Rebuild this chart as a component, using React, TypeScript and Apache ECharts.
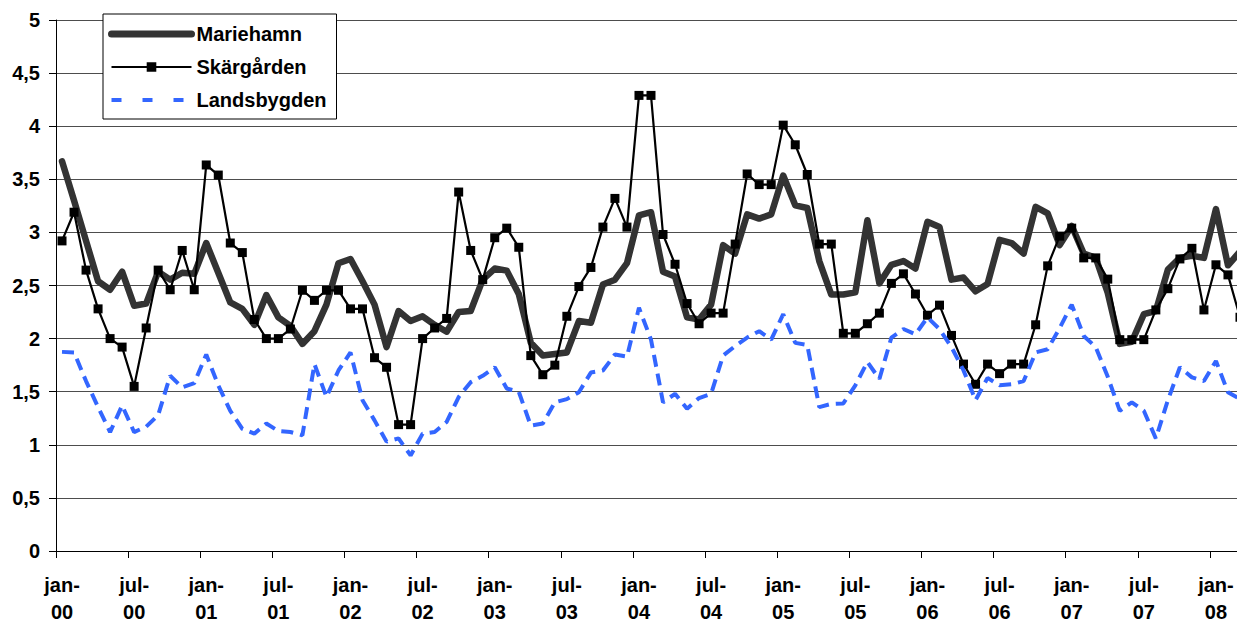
import React, { useEffect, useRef } from "react";
import * as echarts from "echarts";

const monthNames = ["jan", "feb", "mar", "apr", "maj", "jun", "jul", "aug", "sep", "okt", "nov", "dec"];
const years = ["00", "01", "02", "03", "04", "05", "06", "07", "08"];
const categories: string[] = [];
years.forEach((y) => monthNames.forEach((m) => categories.push(`${m}-${y}`)));
const months = categories.slice(0, 99); // jan-00 .. mar-08

const mariehamn = [
  3.67, 3.3, 2.92, 2.54, 2.46, 2.63, 2.31, 2.33, 2.63, 2.555, 2.62, 2.61,
  2.9, 2.62, 2.34, 2.28, 2.13, 2.41, 2.2, 2.12, 1.95, 2.07, 2.32, 2.71,
  2.75, 2.54, 2.32, 1.92, 2.26, 2.165, 2.21, 2.13, 2.065, 2.25, 2.26, 2.555,
  2.66, 2.64, 2.42, 1.96, 1.84, 1.855, 1.87, 2.165, 2.15, 2.51, 2.555, 2.71,
  3.16, 3.19, 2.63, 2.585, 2.2, 2.18, 2.32, 2.88, 2.8, 3.17, 3.13, 3.17,
  3.535, 3.255, 3.23, 2.73, 2.415, 2.415, 2.435, 3.115, 2.52, 2.695, 2.73, 2.66,
  3.1, 3.05, 2.555, 2.575, 2.445, 2.515, 2.93, 2.9, 2.8, 3.24, 3.18, 2.88,
  3.06, 2.8, 2.76, 2.43, 1.95, 1.97, 2.23, 2.26, 2.65, 2.76, 2.78, 2.76,
  3.22, 2.69, 2.82,
];

const skargarden = [
  2.92, 3.19, 2.645, 2.28, 2.0, 1.92, 1.55, 2.1, 2.645, 2.46, 2.83, 2.46,
  3.635, 3.54, 2.9, 2.81, 2.18, 2.0, 2.0, 2.09, 2.455, 2.36, 2.455, 2.455,
  2.28, 2.28, 1.82, 1.73, 1.19, 1.19, 2.0, 2.1, 2.19, 3.38, 2.83, 2.555,
  2.95, 3.04, 2.86, 1.84, 1.66, 1.75, 2.21, 2.49, 2.67, 3.05, 3.32, 3.05,
  4.29, 4.29, 2.98, 2.7, 2.33, 2.14, 2.24, 2.24, 2.89, 3.55, 3.45, 3.45,
  4.01, 3.825, 3.545, 2.89, 2.89, 2.05, 2.05, 2.14, 2.24, 2.52, 2.61, 2.42,
  2.22, 2.315, 2.03, 1.76, 1.57, 1.76, 1.67, 1.76, 1.76, 2.13, 2.685, 2.965,
  3.04, 2.76, 2.76, 2.56, 1.99, 1.99, 1.99, 2.27, 2.47, 2.75, 2.85, 2.27,
  2.695, 2.6, 2.2,
];

const landsbygden = [
  1.875, 1.87, 1.6, 1.355, 1.12, 1.37, 1.12, 1.17, 1.28, 1.65, 1.54, 1.58,
  1.85, 1.56, 1.32, 1.15, 1.105, 1.2, 1.13, 1.12, 1.09, 1.76, 1.45, 1.7,
  1.87, 1.42, 1.23, 1.03, 1.06, 0.9, 1.105, 1.12, 1.215, 1.45, 1.59, 1.65,
  1.73, 1.53, 1.5, 1.18, 1.2, 1.4, 1.43, 1.495, 1.68, 1.7, 1.85, 1.83,
  2.29, 1.99, 1.4, 1.48, 1.34, 1.44, 1.48, 1.84, 1.93, 2.01, 2.07, 1.99,
  2.23, 1.96, 1.94, 1.355, 1.385, 1.39, 1.56, 1.78, 1.62, 2.01, 2.09, 2.04,
  2.2, 2.09, 1.92, 1.7, 1.42, 1.63, 1.56, 1.57, 1.6, 1.87, 1.9, 2.1,
  2.32, 2.025, 1.92, 1.64, 1.32, 1.4, 1.32, 1.06, 1.42, 1.73, 1.635, 1.6,
  1.79, 1.495, 1.43,
];

const FONT = "'Liberation Sans', Arial, Helvetica, sans-serif";

export default function App() {
  const ref = useRef<HTMLDivElement>(null);
  useEffect(() => {
    document.body.style.margin = "0";
    document.body.style.overflow = "hidden";
    document.documentElement.style.overflow = "hidden";
    if (!ref.current) return;
    const chart = echarts.init(ref.current, undefined, { renderer: "svg" });
    chart.setOption({
      animation: false,
      backgroundColor: "#ffffff",
      textStyle: { fontFamily: FONT },
      grid: { left: 56, top: 20, height: 535, width: 1190, containLabel: false },
      legend: {
        orient: "vertical",
        left: 103,
        top: 14,
        padding: [9, 10, 8, 5],
        itemWidth: 80,
        itemHeight: 12,
        itemGap: 11,
        backgroundColor: "#ffffff",
        borderColor: "#000000",
        borderWidth: 1,
        borderRadius: 0,
        textStyle: { fontFamily: FONT, fontWeight: "bold", fontSize: 20, color: "#000", lineHeight: 22 },
        data: [
          {
            name: "Mariehamn",
            itemStyle: { opacity: 0 },
            lineStyle: { color: "#333333", width: 7, cap: "round" },
          },
          {
            name: "Skärgården",
            lineStyle: { color: "#000000", width: 2.2 },
          },
          {
            name: "Landsbygden",
            itemStyle: { opacity: 0 },
            lineStyle: { color: "#3366ff", width: 4, type: [10, 21] },
          },
        ],
      },
      xAxis: {
        type: "category",
        data: months,
        boundaryGap: true,
        axisLine: { show: true, lineStyle: { color: "#000", width: 1 } },
        axisTick: { show: true, interval: 5, length: 7, lineStyle: { color: "#000" } },
        axisLabel: {
          interval: 5,
          margin: 20,
          fontFamily: FONT,
          fontWeight: "bold",
          fontSize: 20,
          lineHeight: 27,
          color: "#000",
          formatter: (v: string) => v.replace("-", "-\n"),
        },
        splitLine: { show: false },
      },
      yAxis: {
        type: "value",
        min: 0,
        max: 5,
        interval: 0.5,
        axisLine: { show: true, lineStyle: { color: "#000", width: 1 } },
        axisTick: { show: true, length: 7, lineStyle: { color: "#000" } },
        axisLabel: {
          margin: 16,
          fontFamily: FONT,
          fontWeight: "bold",
          fontSize: 20,
          color: "#000",
          formatter: (v: number) => String(v).replace(".", ","),
        },
        splitLine: { show: true, lineStyle: { color: "#4d4d4d", width: 1 } },
      },
      series: [
        {
          name: "Mariehamn",
          type: "line",
          data: mariehamn,
          symbol: "none",
          showSymbol: false,
          lineStyle: { color: "#333333", width: 6.5, join: "round", cap: "round" },
          itemStyle: { color: "#333333" },
          z: 2,
        },
        {
          name: "Skärgården",
          type: "line",
          data: skargarden,
          symbol: "rect",
          symbolSize: 9,
          showAllSymbol: true,
          lineStyle: { color: "#000000", width: 2.2 },
          itemStyle: { color: "#000000" },
          z: 3,
        },
        {
          name: "Landsbygden",
          type: "line",
          data: landsbygden,
          symbol: "none",
          showSymbol: false,
          lineStyle: { color: "#3366ff", width: 4, type: [12, 7] },
          itemStyle: { color: "#3366ff" },
          z: 4,
        },
      ],
    });
    return () => chart.dispose();
  }, []);
  return (
    <div style={{ width: 1237, height: 625, overflow: "hidden" }}>
      <div ref={ref} style={{ width: 1260, height: 625 }} />
    </div>
  );
}
